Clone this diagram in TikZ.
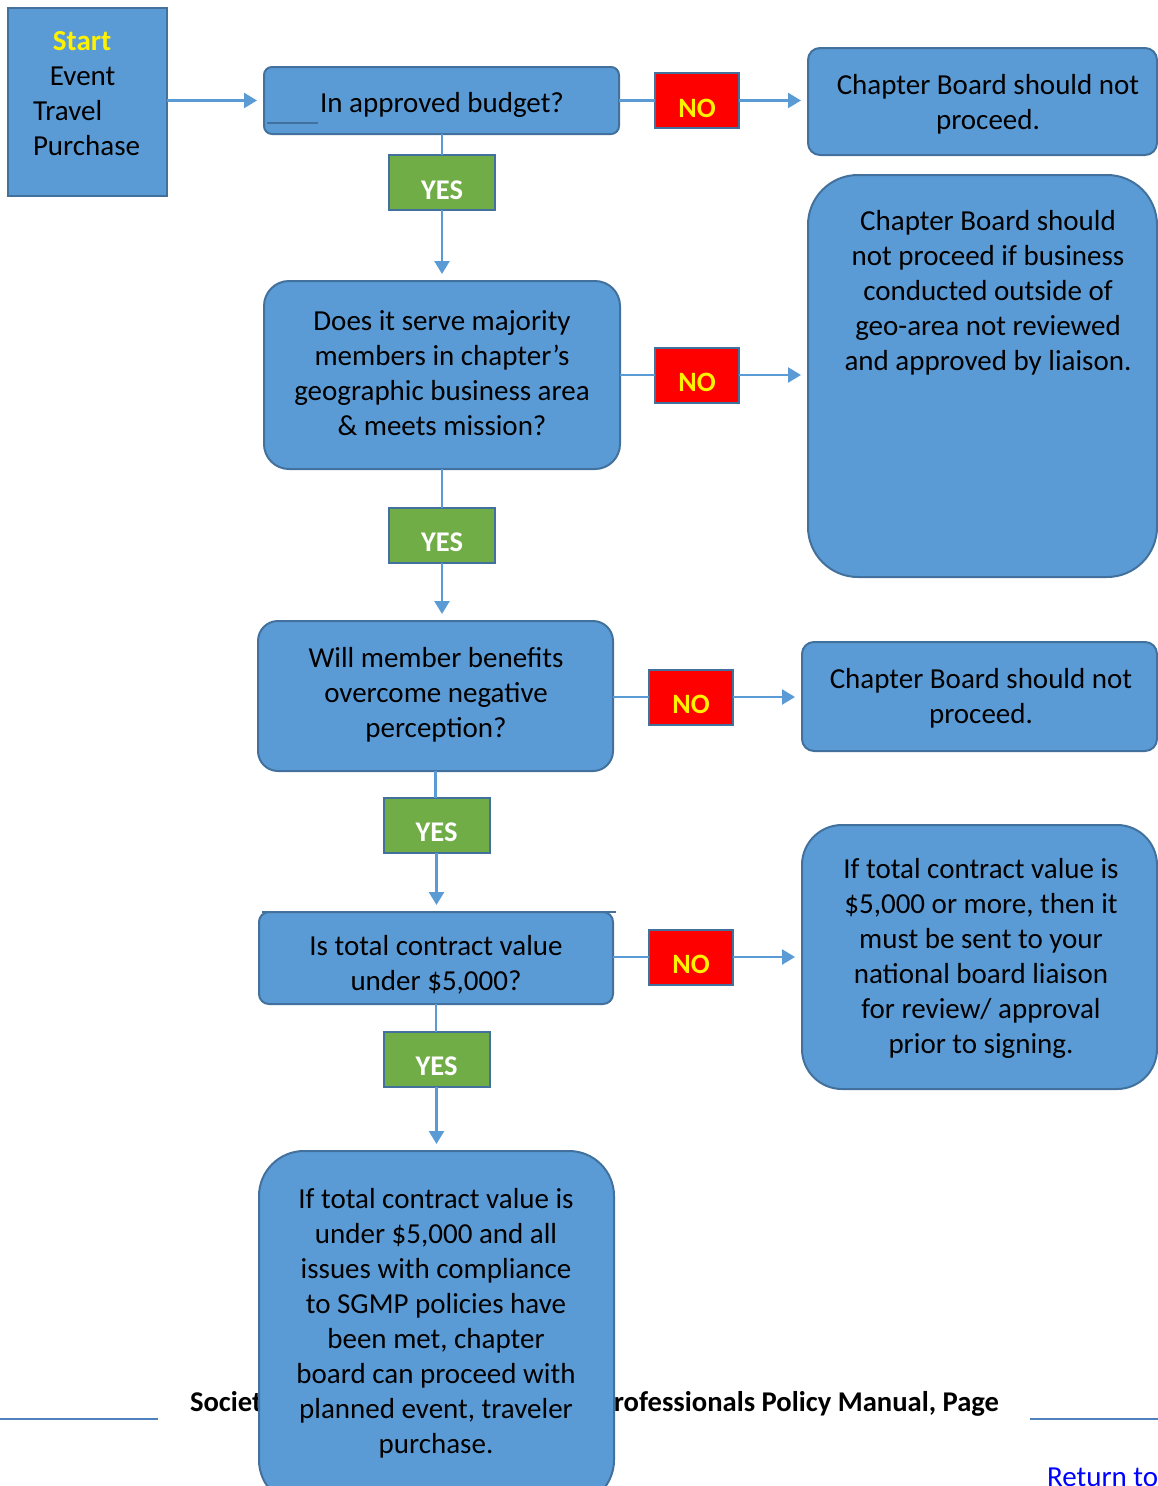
\documentclass[tikz,border=0pt]{standalone}
\usepackage{fontspec}
\setmainfont{Carlito}
\usetikzlibrary{arrows.meta}
\definecolor{boxfill}{HTML}{5B9BD5}
\definecolor{boxline}{HTML}{41719C}
\definecolor{nofill}{HTML}{FF0000}
\definecolor{yesfill}{HTML}{70AD47}
\definecolor{footline}{HTML}{4F81BD}
\definecolor{linkblue}{HTML}{0000FF}
\newcommand{\lowered}[1]{\raisebox{-7.5pt}[\height][\depth]{#1}}
\begin{document}
\begin{tikzpicture}[x=1pt,y=-1pt,
  every node/.style={inner sep=0pt, outer sep=0pt},
  txt/.style={font=\fontsize{29}{35}\selectfont, align=center},
  box/.style={draw=boxline, fill=boxfill, line width=2pt, rounded corners=#1, txt},
  box/.default=8pt,
  nobox/.style={draw=boxline, fill=nofill, line width=2pt, minimum width=84pt, minimum height=55pt,
     font=\fontsize{28}{32}\selectfont\bfseries, text=yellow},
  yesbox/.style={draw=boxline, fill=yesfill, line width=2pt, minimum width=106pt, minimum height=55pt,
     font=\fontsize{28.5}{32}\selectfont\bfseries, text=white},
  foottxt/.style={font=\fontsize{28.6}{32}\selectfont\bfseries},
  conn/.style={draw=boxfill, line width=2.5pt},
  arr/.style={conn, -{Triangle[length=13pt,width=15pt]}, shorten >=7pt}
]
\useasboundingbox (0,0) rectangle (1158,1486);

% footer (behind the last box)
\node[foottxt, anchor=base west] (footl) at (190,1411) {Society for Government Meeting};
\node[foottxt, anchor=base east] (footr) at (999,1411) {Professionals Policy Manual, Page};
\coordinate (fl1) at (0,1419); \coordinate (fl2) at (158,1419);
\coordinate (fr1) at (1030,1419); \coordinate (fr2) at (1158,1419);
\draw[footline, line width=2.5pt] (fl1) -- (fl2);
\draw[footline, line width=2.5pt] (fr1) -- (fr2);
\node[txt, text=linkblue, anchor=base west] (ret) at (1047,1486) {Return to};

% start
\node[draw=boxline, fill=boxfill, line width=2pt, minimum width=159pt, minimum height=188pt] (start) at (87.5,102) {};
\node[txt, align=left, anchor=west] (starttxt) at (33,94) {\hspace*{20pt}{\color{yellow}\textbf{Start}}\\\hspace*{17pt}Event\\Travel\\Purchase};

% column of questions
\node[box=8pt, minimum width=355pt, minimum height=67pt] (b1) at (441.5,100.5) {};
\node[txt] (b1t) at (442,105) {In approved budget?};
\draw[boxline, line width=1.5pt] (267,123) -- (318,123);
\node[yesbox] (y1) at (442,182.5) {\lowered{YES}};

\node[box=25pt, minimum width=356pt, minimum height=188pt] (b2) at (442,375) {};
\node[txt] (b2t) at (442,373) {Does it serve majority\\members in chapter’s\\geographic business area\\\& meets mission?};
\node[yesbox] (y2) at (442,535) {\lowered{YES}};

\node[box=20pt, minimum width=355pt, minimum height=150pt] (b3) at (435.5,696) {};
\node[txt] (b3t) at (436,695) {Will member benefits\\overcome negative\\perception?};
\node[yesbox] (y3) at (436.5,825) {\lowered{YES}};

\node[box=10pt, minimum width=354pt, minimum height=92pt] (b4) at (436,958) {};
\node[txt] (b4t) at (436,965) {Is total contract value\\under \$5,000?};
\draw[boxline, line width=1.2pt] (262,912) -- (616,912);
\node[yesbox] (y4) at (436.5,1059) {\lowered{YES}};

\node[box=45pt, minimum width=355pt, minimum height=354pt] (b5) at (436.5,1328) {};
\node[txt] (b5t) at (436,1323) {If total contract value is\\under \$5,000 and all\\issues with compliance\\to SGMP policies have\\been met, chapter\\board can proceed with\\planned event, traveler\\purchase.};

% NO boxes
\node[nobox] (n1) at (697,100.5) {\lowered{NO}};
\node[nobox] (n2) at (697,375) {\lowered{NO}};
\node[nobox] (n3) at (691,697) {\lowered{NO}};
\node[nobox] (n4) at (691,957) {\lowered{NO}};

% results
\node[box=12pt, minimum width=349pt, minimum height=107pt] (r1) at (982.5,101.5) {};
\node[txt] (r1t) at (988,104) {Chapter Board should not\\proceed.};
\node[box=50pt, minimum width=349pt, minimum height=402pt] (r2) at (982.5,376) {};
\node[txt] (r2t) at (988,293) {Chapter Board should\\not proceed if business\\conducted outside of\\geo-area not reviewed\\and approved by liaison.};
\node[box=12pt, minimum width=355pt, minimum height=109pt] (r3) at (979.5,696.5) {};
\node[txt] (r3t) at (981,698) {Chapter Board should not\\proceed.};
\node[box=40pt, minimum width=355pt, minimum height=264pt] (r4) at (979.5,957) {};
\node[txt] (r4t) at (981,958) {If total contract value is\\\$5,000 or more, then it\\must be sent to your\\national board liaison\\for review/ approval\\prior to signing.};

% connectors
\draw[arr] (start.east |- b1.west) -- (b1.west);
\draw[conn] (b1.east |- n1.west) -- (n1.west);
\draw[arr] (n1.east) -- (r1.west |- n1.east);
\draw[conn] (b1.south -| y1.north) -- (y1.north);
\draw[arr] (y1.south) -- (y1.south |- b2.north);

\draw[conn] (b2.east |- n2.west) -- (n2.west);
\draw[arr] (n2.east) -- (r2.west |- n2.east);
\draw[conn] (b2.south) -- (b2.south |- y2.north);
\draw[arr] (y2.south) -- (y2.south |- b3.north);

\draw[conn] (b3.east |- n3.west) -- (n3.west);
\draw[arr] (n3.east) -- (r3.west |- n3.east);
\draw[conn] (b3.south) -- (b3.south |- y3.north);
\draw[arr] (y3.south) -- (y3.south |- b4.north);

\draw[conn] (b4.east |- n4.west) -- (n4.west);
\draw[arr] (n4.east) -- (r4.west |- n4.east);
\draw[conn] (b4.south) -- (b4.south |- y4.north);
\draw[arr] (y4.south) -- (y4.south |- b5.north);
\end{tikzpicture}
\end{document}
